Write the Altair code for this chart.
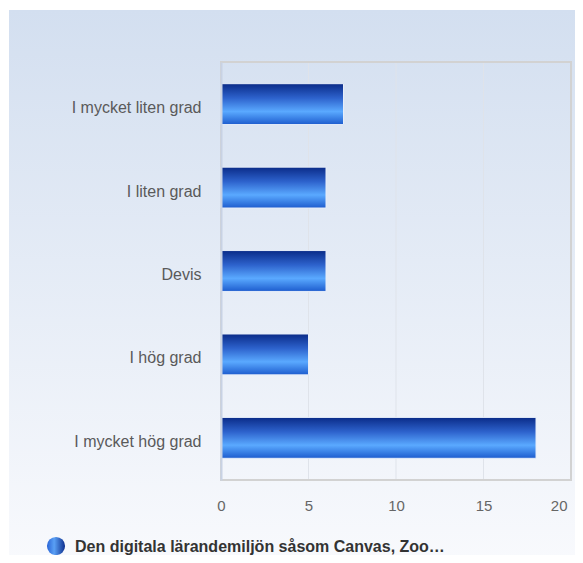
import altair as alt
import pandas as pd

categories = ["I mycket liten grad", "I liten grad", "Devis", "I hög grad", "I mycket hög grad"]
values = [7, 6, 6, 5, 18]
series_name = "Den digitala lärandemiljön såsom Canvas, Zoo…"
x_ticks = [0, 5, 10, 15, 20]
grid_ticks = [5, 10, 15]
x_domain = [0, 20]

df = pd.DataFrame({"cat": categories, "val": values})
grid_df = pd.DataFrame({"t": grid_ticks})
legend_df = pd.DataFrame({"name": [series_name]})

FONT = "Liberation Sans"

bg_grad = alt.LinearGradient(
    gradient="linear", x1=0, y1=0, x2=0, y2=1,
    stops=[alt.GradientStop(offset=0, color="#d3dff0"),
           alt.GradientStop(offset=1, color="#f9fafd")])

bar_grad = alt.LinearGradient(
    gradient="linear", x1=0, y1=0, x2=0, y2=1,
    stops=[alt.GradientStop(offset=0, color="#0a2b88"),
           alt.GradientStop(offset=0.35, color="#2d62cc"),
           alt.GradientStop(offset=0.68, color="#5aa9ff"),
           alt.GradientStop(offset=1, color="#1d5cce")])

sym_grad = alt.LinearGradient(
    gradient="linear", x1=0, y1=0, x2=1, y2=0,
    stops=[alt.GradientStop(offset=0, color="#2a64d6"),
           alt.GradientStop(offset=0.4, color="#5aa0f5"),
           alt.GradientStop(offset=1, color="#0e2f8e")])

xscale = alt.Scale(domain=x_domain)

background = alt.Chart(alt.Data(values=[{}])).mark_rect(fill=bg_grad).encode(
    x=alt.value(-212), x2=alt.value(380), y=alt.value(-52), y2=alt.value(510)
)

grid = alt.Chart(grid_df).mark_rule(color="#dfe3ea", strokeWidth=1).encode(
    x=alt.X("t:Q", scale=xscale)
)

border = alt.Chart(alt.Data(values=[{}])).mark_rect(
    fillOpacity=0, stroke="#d2d2d2", strokeWidth=2).encode(
    x=alt.datum(x_domain[0], scale=xscale), x2=alt.datum(x_domain[1]),
    y=alt.value(0), y2=alt.value("height")
)

last_tick = f"datum.value == {x_ticks[-1]}"

bars = alt.Chart(df).mark_bar(fill=bar_grad, stroke="#e6edf9", strokeWidth=1).encode(
    y=alt.Y("cat:N", sort=categories, title=None,
            scale=alt.Scale(paddingInner=0.51, paddingOuter=0.26),
            axis=alt.Axis(labelFont=FONT, labelFontSize=16, labelColor="#5a5a5a",
                          labelPadding=20, labelOffset=4, ticks=False,
                          domainColor="#c8d2e4", domainWidth=2, grid=False, zindex=1)),
    x=alt.X("val:Q", scale=xscale, title=None,
            axis=alt.Axis(values=x_ticks, labelFont=FONT, labelFontSize=15,
                          labelColor="#666666", labelPadding=18, ticks=False,
                          labelFlush=False,
                          labelAlign=alt.ConditionalAxisLabelAlign(
                              condition={"test": last_tick, "value": "right"},
                              value="center"),
                          labelOffset=alt.ConditionalAxisNumber(
                              condition={"test": last_tick, "value": -4},
                              value=0),
                          domain=False, grid=False, zindex=1)),
)

legend_sym = alt.Chart(legend_df).mark_point(filled=True, shape="circle", size=330,
                                              fill=sym_grad, opacity=1).encode(
    x=alt.value(-165), y=alt.value(484)
)
legend_txt = alt.Chart(legend_df).mark_text(align="left", baseline="alphabetic", font=FONT,
                                            fontSize=16, fontWeight="bold",
                                            color="#333333").encode(
    x=alt.value(-146), y=alt.value(490), text="name:N"
)

chart = alt.layer(background, grid, border, bars, legend_sym, legend_txt).properties(
    width=350, height=418,
    autosize=alt.AutoSizeParams(type="none"),
    padding={"left": 213, "top": 54, "right": 4, "bottom": 75},
    background="white",
).configure_view(stroke=None)

chart.save("out.html", embed_options={"renderer": "svg", "actions": False})
